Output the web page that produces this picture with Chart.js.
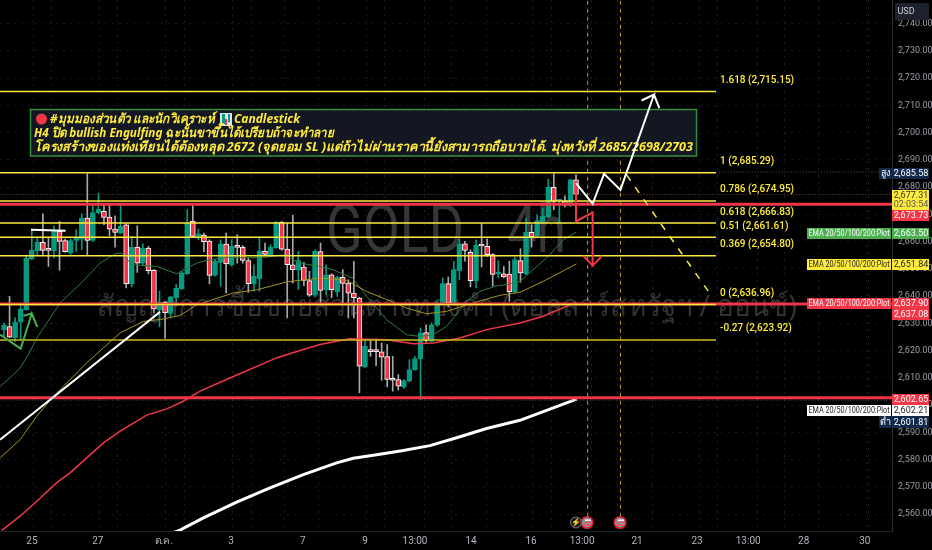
<!DOCTYPE html>
<html>
<head>
<meta charset="utf-8">
<style>
  html, body { margin: 0; padding: 0; background: #000; }
  canvas { display: block; }
</style>
<script src="https://cdn.jsdelivr.net/npm/chart.js@4"></script>
</head>
<body>
<canvas id="goldChart" width="932" height="550"></canvas>
<script>
// candles, oldest first
const opens = [2627.6,2628.8,2624.7,2630.4,2635.0,2653.7,2656.7,2659.7,2657.0,2656.7,2663.8,2660.4,2655.8,2660.4,2660.9,2668.6,2660.4,2670.5,2671.1,2669.0,2664.6,2663.1,2666.2,2644.6,2658.0,2652.1,2657.6,2649.5,2635.0,2637.7,2633.6,2639.4,2642.6,2648.2,2667.5,2661.9,2662.4,2660.2,2647.6,2652.4,2659.1,2651.5,2658.1,2658.0,2653.0,2644.5,2646.4,2656.4,2655.1,2657.8,2667.1,2657.3,2651.5,2649.5,2650.7,2645.7,2640.3,2656.3,2642.4,2647.8,2641.6,2647.0,2644.8,2641.1,2639.3,2614.0,2620.1,2619.9,2619.5,2617.8,2609.4,2609.4,2606.6,2608.8,2613.0,2617.0,2626.6,2623.4,2629.3,2637.2,2644.6,2637.5,2649.2,2659.2,2656.1,2645.7,2658.7,2658.3,2655.2,2648.1,2648.2,2648.1,2641.5,2653.0,2648.2,2663.4,2662.2,2667.3,2669.0,2679.9,2674.8,2674.9,2673.9,2682.7];
const highs = [2630.2,2639.9,2632.0,2637.2,2654.8,2664.4,2661.7,2670.2,2661.7,2665.8,2667.4,2660.9,2660.9,2664.4,2670.2,2684.9,2673.5,2677.8,2673.5,2673.5,2669.5,2674.1,2666.6,2661.9,2665.8,2659.2,2658.3,2649.7,2641.8,2638.1,2639.9,2644.2,2649.1,2671.7,2673.2,2664.6,2663.1,2660.7,2653.4,2660.7,2663.1,2660.7,2662.5,2658.5,2654.0,2651.5,2661.7,2659.5,2658.9,2667.4,2667.4,2666.8,2669.7,2656.4,2652.4,2649.1,2657.0,2659.5,2651.5,2648.2,2647.3,2649.7,2646.0,2652.8,2639.6,2624.0,2624.0,2624.3,2622.8,2622.2,2617.9,2611.2,2609.4,2616.7,2617.9,2628.3,2629.5,2630.2,2638.1,2646.7,2647.0,2652.8,2660.9,2660.1,2657.0,2660.7,2666.6,2660.9,2655.6,2653.0,2650.9,2652.8,2654.3,2657.4,2668.6,2666.2,2669.9,2672.3,2682.9,2684.9,2675.4,2676.8,2682.9,2684.5];
const lows = [2625.3,2624.7,2623.4,2624.0,2634.8,2653.4,2654.8,2655.1,2650.9,2654.0,2649.5,2656.1,2655.3,2656.4,2657.0,2654.8,2660.1,2670.2,2666.2,2662.2,2658.0,2662.9,2643.0,2643.4,2648.7,2651.5,2648.2,2633.8,2628.7,2624.5,2632.0,2636.3,2642.4,2647.9,2661.7,2660.7,2656.3,2644.5,2647.3,2643.6,2641.2,2650.9,2652.1,2652.1,2641.4,2641.8,2641.8,2654.8,2654.6,2657.5,2656.8,2632.0,2644.8,2642.4,2643.8,2639.9,2639.7,2637.5,2640.5,2639.4,2639.9,2637.5,2632.0,2632.0,2604.5,2613.6,2617.9,2614.5,2609.1,2606.7,2605.1,2605.5,2606.1,2608.5,2612.8,2602.0,2623.1,2623.1,2628.9,2636.9,2636.0,2637.2,2646.0,2652.8,2643.4,2643.0,2650.7,2654.6,2643.6,2646.7,2646.7,2638.1,2641.1,2645.1,2647.9,2658.0,2661.7,2666.6,2668.8,2671.7,2666.6,2672.7,2672.9,2676.8];
const closes = [2629.3,2624.9,2630.5,2635.3,2654.0,2656.8,2659.8,2656.8,2656.8,2664.1,2660.1,2656.3,2660.4,2661.3,2668.6,2660.4,2670.7,2671.9,2668.9,2664.6,2663.4,2665.6,2644.6,2658.0,2652.1,2657.6,2649.3,2635.3,2637.7,2633.8,2639.7,2642.9,2648.5,2666.8,2661.9,2662.9,2660.0,2647.6,2652.8,2659.2,2651.8,2658.3,2657.9,2653.1,2644.6,2647.3,2656.6,2655.3,2658.0,2667.2,2657.2,2651.5,2649.7,2653.0,2645.8,2640.3,2656.4,2642.1,2647.8,2642.4,2647.0,2644.7,2641.1,2639.4,2614.3,2621.6,2619.6,2619.6,2617.6,2609.4,2609.1,2606.9,2609.0,2613.0,2617.1,2626.5,2623.6,2629.5,2637.5,2644.6,2637.5,2649.7,2659.2,2656.8,2645.7,2658.6,2658.4,2655.2,2648.0,2648.2,2647.0,2641.6,2653.4,2648.5,2663.4,2661.7,2667.7,2669.3,2679.9,2674.8,2675.4,2673.5,2682.7,2677.3];

// moving averages: candle position and price
const ema20Idx = [-0.7,1.1,2.9,4.4,5.9,7.7,10.1,14,17.3,20,21.2,23,27.5,31.1,34.7,36.5,40.1,43.7,47.3,50.2,53.3,56.9,59.2,62.8,65.3,68.9,72.5,74.9,77.3,79.7,83.3,85.7,88.7,90.5,92.9,95.3,98,100.7,103.1];
const ema20 = [2606.9,2610,2613.6,2618.5,2624.6,2630.1,2637.5,2645,2652.1,2655.5,2655.8,2651.5,2650.9,2648.2,2652.1,2653.1,2654.3,2654,2654.3,2655.2,2652.1,2650.9,2649.7,2646.6,2639.9,2631.3,2625.8,2625.2,2625.8,2628.9,2638.1,2641.7,2643.8,2644.2,2645.4,2649.7,2654.6,2660.7,2663.5];
const ema50Idx = [-0.7,2.9,5.9,8.9,11.9,14.9,17.9,20.9,25.1,28.7,31.7,34.7,41.2,45.5,50.9,53.3,56.9,61.7,65.3,68.9,72.5,76.1,79.7,84.5,89.3,92.9,97.1,103.1];
const ema50 = [2580.6,2587.3,2595.9,2603.2,2609.3,2615.5,2621,2626.5,2630.7,2631.6,2632.9,2636.8,2641.1,2642.3,2645.2,2645.8,2646.6,2645.8,2641.7,2638.7,2635.6,2633.5,2634.4,2637.5,2640.3,2641.4,2645.4,2651.84];
const ema100Idx = [-0.4,2.9,5.9,9.5,11.9,14.9,17.9,20.9,25.7,29.3,32.3,35.3,41.2,49.2,53.3,56.9,62.3,68.9,73.7,77.3,82.1,86.9,92.9,97.1,103.1];
const ema100 = [2554,2559.2,2564.7,2571.5,2575.1,2580.6,2586.1,2590.4,2596.3,2598.6,2601.4,2605.1,2610.4,2617.4,2620,2622.2,2624.3,2624,2622.5,2622.8,2624.6,2627.7,2630.1,2632.6,2637.9];
const ema200Idx = [29,31.7,35.9,41.9,47.9,53.9,59.9,62.9,67.1,71.9,76.7,81.5,86.9,92.9,98.9,103.1];
const ema200 = [2552,2554.1,2558.6,2564.4,2569.6,2574.5,2578.8,2580.5,2581.8,2583.3,2585.1,2588,2591.4,2594.4,2599,2602.21];

// fibonacci retracement
const fibRatios = ['1.618','1','0.786','0.618','0.51','0.369','0','-0.27'];
const fibPrices = [2715.15,2685.29,2674.95,2666.83,2661.61,2654.80,2636.96,2623.92];
const fibEnd = 128.2;

// horizontal price lines
const redLevels = [2673.73,2637.08,2602.65];
const currentPrice = 2677.31;
const dayHigh = 2685.58;
const dayLow = 2601.81;

// drawings: candle position and price
const sessionMarks = [105.1,111];
const forecastUpIdx = [103,106,108.05,111,117.05,114.8,117.05,118];
const forecastUp = [2681.5,2673.9,2684.9,2679,2714,2711.8,2714,2709];
const forecastDownIdx = [103,103,106,106,104.3,106,107.7];
const forecastDown = [2677.9,2667.4,2670.7,2651.2,2654.8,2651.2,2654.8];
const retraceIdx = [112.1,127.5];
const retrace = [2684.5,2639.8];
const trendIdx = [-0.72,28.1];
const trend = [2587.3,2634.2];
const flatIdx = [4.86,11.1];
const flat = [2664.4,2664];
const greenArrowIdx = [-0.7,3,5,6,5,3.5];
const greenArrow = [2625.9,2620.7,2633.6,2628.7,2633.6,2632.8];

// axes
const priceTicks = [2560,2570,2580,2590,2600,2610,2620,2630,2640,2650,2660,2670,2680,2690,2700,2710,2720,2730,2740];
const timeTicks = [5.04,16.9,28.8,40.9,53.8,65,74,84.1,94.9,104.1,114,124.8,134,144,155];
const timeLabels = ['25','27','ต.ค.','3','7','9','13:00','14','16','13:00','21','23','13:00','28','30'];
const gridTicks = [-0.5,5.5,11.5,17.5,23.5,29.5,35.5,41.5,47.5,53.5,59.5,65.5,71.5,77.5,83.5,89.5,95.5,101.5,107.5,113.5,119.5,125.5,131.5,137.5,143.5,149.5,155.5];

// text on the chart
const noteLines = [
    '#มุมมองส่วนตัว และนักวิเคราะห์',
    'Candlestick',
    'H4 ปิด bullish Engulfing ฉะนั้นขาขึ้นได้เปรียบถ้าจะทำลาย',
    'โครงสร้างของแท่งเทียนได้ต้องหลุด 2672 (จุดยอม SL )แต่ถ้าไม่ผ่านราคานี้ยังสามารถถือบายได้. มุ่งหวังที่ 2685/2698/2703'
];
const watermarkSymbol = 'GOLD';
const watermarkFrame = '4h';
const watermarkName = 'สัญญาการซื้อขายส่วนต่างทองคำ (ดอลลาร์สหรัฐฯ / ออนซ์)';
const emaTagText = 'EMA 20/50/100/200:Plot';

const UP = '#089981';
const DOWN = '#f23645';
const YELLOW = '#ffeb3b';
const FONT = 'Roboto, "Noto Sans", sans-serif';

const toPoints = (xs, ys) => xs.map((x, i) => ({ x: x, y: ys[i] }));
const span = (y, x0, x1) => [{ x: x0, y: y }, { x: x1, y: y }];
const isUp = i => closes[i] >= opens[i];

const lineSet = (label, data, color, width, order, dash) => ({
    type: 'line',
    label: label,
    data: data,
    borderColor: color,
    borderWidth: width,
    borderDash: dash || [],
    pointRadius: 0,
    tension: 0,
    order: order,
    borderCapStyle: 'butt'
});

const datasets = [
    {
        type: 'bar',
        label: 'wicks',
        data: opens.map((_, i) => ({ x: i, y: [lows[i], highs[i]] })),
        backgroundColor: opens.map((_, i) => isUp(i) ? UP : '#a8a8a8'),
        barThickness: 1,
        grouped: false,
        order: 20
    },
    {
        type: 'bar',
        label: 'bodies',
        data: opens.map((_, i) => ({ x: i, y: [opens[i], closes[i]] })),
        backgroundColor: opens.map((_, i) => isUp(i) ? UP : DOWN),
        borderColor: opens.map((_, i) => isUp(i) ? UP : '#ffffff'),
        borderWidth: 1,
        borderSkipped: false,
        barThickness: 5,
        minBarLength: 2,
        grouped: false,
        order: 19
    },
    lineSet('ema20', toPoints(ema20Idx, ema20), '#2f7d3a', 1, 18),
    lineSet('ema50', toPoints(ema50Idx, ema50), '#a3951f', 1, 17),
    lineSet('ema100', toPoints(ema100Idx, ema100), DOWN, 1.5, 16),
    lineSet('ema200', toPoints(ema200Idx, ema200), '#ffffff', 3, 15),
    lineSet('last', span(currentPrice, -1, 160), '#7a4a3a', 1, 14, [1, 2]),
    lineSet('high', span(dayHigh, 106, 160), '#555555', 1, 14, [1, 2]),
    lineSet('low', span(dayLow, -1, 160), '#555555', 1, 14, [1, 2])
];
redLevels.forEach((p, i) => datasets.push(lineSet('red' + i, span(p, -1, 160), DOWN, 3, 13)));
fibPrices.forEach((p, i) => datasets.push(lineSet('fib' + i, span(p, -1, fibEnd), i === 7 ? '#cdbb24' : YELLOW, 1.5, 12)));
sessionMarks.forEach((x, i) => datasets.push(lineSet('session' + i, [{ x: x, y: 2559 }, { x: x, y: 2749 }], '#c2a024', 1, 11, [4, 4])));
datasets.push(
    lineSet('retrace', toPoints(retraceIdx, retrace), YELLOW, 1.5, 10, [7, 8]),
    lineSet('trend', toPoints(trendIdx, trend), '#ffffff', 2, 9),
    lineSet('flat', toPoints(flatIdx, flat), '#ffffff', 2, 9),
    lineSet('greenArrow', toPoints(greenArrowIdx, greenArrow), '#4caf50', 2, 9),
    lineSet('forecastDown', toPoints(forecastDownIdx, forecastDown), DOWN, 2, 8),
    lineSet('forecastUp', toPoints(forecastUpIdx, forecastUp), '#ffffff', 2, 7)
);

function drawWatermark(ctx) {
    ctx.save();
    ctx.textBaseline = 'middle';
    ctx.textAlign = 'left';
    ctx.fillStyle = '#363636';
    ctx.font = '66px ' + FONT;
    ctx.fillText(watermarkSymbol, 326, 235, 138);
    ctx.fillText(watermarkFrame, 507, 235, 59);
    ctx.fillStyle = '#333333';
    ctx.font = '29px "Noto Sans", ' + FONT;
    ctx.fillText(watermarkName, 97, 308, 700);
    ctx.restore();
}

function drawNoteBox(ctx) {
    ctx.save();
    ctx.fillStyle = '#131722';
    ctx.strokeStyle = '#388e3c';
    ctx.lineWidth = 1.5;
    ctx.fillRect(30.5, 109.5, 666, 46.5);
    ctx.strokeRect(30.5, 109.5, 666, 46.5);

    ctx.fillStyle = '#f23645';
    ctx.beginPath();
    ctx.arc(41.5, 119, 5.5, 0, Math.PI * 2);
    ctx.fill();

    // little chart badge in front of the word Candlestick
    ctx.fillStyle = '#d8e8e0';
    ctx.fillRect(220, 113, 12, 13);
    ctx.fillStyle = UP;
    ctx.fillRect(222, 114, 3, 10);
    ctx.fillRect(228, 114, 2, 8);
    ctx.fillStyle = DOWN;
    ctx.fillRect(225, 119, 2, 6);

    ctx.fillStyle = YELLOW;
    ctx.textBaseline = 'middle';
    ctx.font = 'italic bold 13px "Noto Sans", ' + FONT;
    ctx.fillText(noteLines[0], 50, 119, 165);
    ctx.fillText(noteLines[1], 234, 119, 66);
    ctx.fillText(noteLines[2], 34, 133, 300);
    ctx.fillText(noteLines[3], 34, 147, 659);
    ctx.restore();
}

function priceTag(ctx, top, bottom, bg, fg, text, withLabel) {
    ctx.fillStyle = bg;
    ctx.fillRect(892, top, 37, bottom - top);
    ctx.fillStyle = fg;
    ctx.font = '9px ' + FONT;
    ctx.textAlign = 'center';
    ctx.textBaseline = 'middle';
    ctx.fillText(text, 911, (top + bottom) / 2 + 0.5);
    if (withLabel) {
        ctx.fillStyle = bg;
        ctx.fillRect(807, top, 84, bottom - top);
        ctx.fillStyle = fg;
        ctx.font = '9px ' + FONT;
        ctx.fillText(emaTagText, 849, (top + bottom) / 2 + 0.5, 81);
    }
}

function sideTag(ctx, top, bottom, word, text) {
    ctx.fillStyle = '#13294b';
    ctx.fillRect(879, top, 50, bottom - top);
    ctx.fillStyle = '#ffffff';
    ctx.textBaseline = 'middle';
    ctx.textAlign = 'center';
    ctx.font = '9px "Noto Sans", ' + FONT;
    ctx.fillText(word, 885, (top + bottom) / 2);
    ctx.font = '9px ' + FONT;
    ctx.fillText(text, 911, (top + bottom) / 2 + 0.5);
}

function eventIcon(ctx, x, y) {
    ctx.fillStyle = '#8a9096';
    ctx.beginPath();
    ctx.arc(x, y, 5.5, 0, Math.PI * 2);
    ctx.fill();
    ctx.fillStyle = '#f7525f';
    ctx.fillRect(x - 2, y - 1, 7, 1.5);
    ctx.fillRect(x - 4, y + 2, 8, 1.5);
    ctx.fillStyle = '#ffffff';
    ctx.fillRect(x - 2, y - 3, 6, 1.5);
    ctx.strokeStyle = '#e0202f';
    ctx.lineWidth = 1.5;
    ctx.beginPath();
    ctx.arc(x, y, 5.8, 0, Math.PI * 2);
    ctx.stroke();
}

const overlay = {
    id: 'overlay',
    beforeDatasetsDraw(chart) {
        drawWatermark(chart.ctx);
    },
    afterDatasetDraw(chart, args) {
        // the note sits over the dashed session lines but under the forecast arrows
        if (chart.data.datasets[args.index].label === 'session0') {
            drawNoteBox(chart.ctx);
        }
    },
    afterDraw(chart) {
        const ctx = chart.ctx;
        const y = chart.scales.y;
        ctx.save();

        // fib labels
        ctx.fillStyle = YELLOW;
        ctx.font = '500 10px ' + FONT;
        ctx.textAlign = 'left';
        ctx.textBaseline = 'middle';
        fibPrices.forEach((p, i) => {
            const text = fibRatios[i] + ' (' + p.toLocaleString('en-US', { minimumFractionDigits: 2 }) + ')';
            ctx.fillText(text, 720, y.getPixelForValue(p) - 11);
        });

        // usd button
        ctx.fillStyle = '#1e222d';
        ctx.fillRect(895, 3, 34, 17);
        ctx.fillStyle = '#c8ccd4';
        ctx.font = '9px ' + FONT;
        ctx.textAlign = 'center';
        ctx.fillText('USD', 906, 12);

        sideTag(ctx, 168, 179, 'สูง', '2,685.58');
        priceTag(ctx, 190, 210, YELLOW, '#333333', '', false);
        ctx.fillStyle = '#333333';
        ctx.font = '9px ' + FONT;
        ctx.fillText('2,677.31', 911, 195.5);
        ctx.fillStyle = '#555555';
        ctx.fillText('02:03:54', 911, 204.5);
        priceTag(ctx, 210, 221, DOWN, '#ffffff', '2,673.73', false);
        priceTag(ctx, 228, 239, '#4caf50', '#ffffff', '2,663.50', true);
        priceTag(ctx, 259, 270, YELLOW, '#222222', '2,651.84', true);
        priceTag(ctx, 298, 309, DOWN, '#ffffff', '2,637.90', true);
        priceTag(ctx, 309, 320, DOWN, '#ffffff', '2,637.08', false);
        priceTag(ctx, 394, 405, DOWN, '#ffffff', '2,602.65', false);
        priceTag(ctx, 405, 416, '#ffffff', '#222222', '2,602.21', true);
        sideTag(ctx, 416, 428, 'ต่ำ', '2,601.81');

        // events row
        ctx.strokeStyle = '#787b86';
        ctx.lineWidth = 1;
        ctx.fillStyle = '#1c1c1c';
        ctx.beginPath();
        ctx.arc(576, 522.5, 5.5, 0, Math.PI * 2);
        ctx.fill();
        ctx.stroke();
        ctx.fillStyle = '#a0a4ac';
        ctx.font = '8px ' + FONT;
        ctx.fillText('⚡', 576, 523);
        eventIcon(ctx, 587, 522.5);
        eventIcon(ctx, 620, 522.5);
        ctx.restore();
    }
};

new Chart(document.getElementById('goldChart').getContext('2d'), {
    type: 'bar',
    data: { datasets: datasets },
    plugins: [overlay],
    options: {
        responsive: false,
        animation: false,
        devicePixelRatio: 1,
        layout: { padding: 0 },
        plugins: { legend: { display: false }, tooltip: { enabled: false } },
        scales: {
            x: {
                type: 'linear',
                offset: false,
                min: -0.72,
                max: 159.9,
                afterBuildTicks: axis => {
                    axis.ticks = gridTicks.concat(timeTicks).sort((a, b) => a - b).map(v => ({ value: v }));
                },
                afterFit: axis => {
                    axis.height = 19;
                    axis.paddingLeft = 0;
                    axis.paddingRight = 0;
                },
                ticks: {
                    autoSkip: false,
                    maxRotation: 0,
                    padding: 4,
                    color: '#b2b5be',
                    font: { family: FONT, size: 10 },
                    callback: value => {
                        const at = timeTicks.indexOf(value);
                        return at >= 0 ? timeLabels[at] : '';
                    }
                },
                grid: {
                    color: ctx => (ctx.tick && timeTicks.includes(ctx.tick.value)) ? 'rgba(0,0,0,0)' : '#1c1f26',
                    tickLength: 0
                },
                border: { color: '#1e222d', dash: [2, 5] }
            },
            y: {
                type: 'linear',
                position: 'right',
                min: 2553.77,
                max: 2748.7,
                afterBuildTicks: axis => {
                    axis.ticks = priceTicks.map(v => ({ value: v }));
                },
                afterFit: axis => {
                    axis.width = 40;
                    axis.paddingTop = 0;
                    axis.paddingBottom = 0;
                },
                ticks: {
                    padding: 6,
                    color: '#9a9da6',
                    font: { family: FONT, size: 9 },
                    callback: value => value.toLocaleString('en-US', { minimumFractionDigits: 2 })
                },
                grid: { color: '#15171c', tickLength: 0 },
                border: { color: '#2a2e39', dash: [2, 5] }
            }
        }
    }
});
</script>
</body>
</html>
